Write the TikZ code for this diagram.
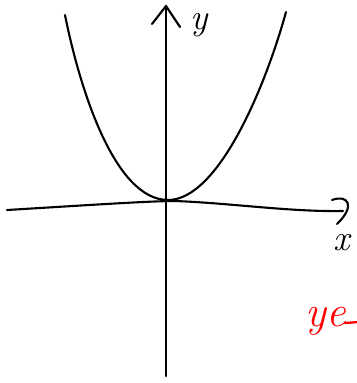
\documentclass[tikz,border=0pt]{standalone}
\usepackage{tikz}
\usetikzlibrary{positioning}

\begin{document}
\begin{tikzpicture}[
    x=0.02cm, y=-0.02cm,
    axis/.style={line width=1.2pt, line cap=round, line join=round},
    curve/.style={line width=1.2pt, line cap=round},
    lbl/.style={font=\huge\itshape, inner sep=0pt},
    note/.style={font=\Huge\itshape, text=red, inner sep=0pt}
]
\useasboundingbox (0,0) rectangle (357,383);
% axes
\coordinate (ybot) at (166,376);
\coordinate (ytop) at (166,6);
\coordinate (xleft) at (7,210);
\coordinate (xright) at (343,211);
\draw[axis] (ybot) -- (ytop);
\draw[axis] (152,24) -- (ytop) -- (180,27);
\draw[axis] (xleft) .. controls (90,205) and (150,201) .. (175,201)
    .. controls (230,203) and (290,212) .. (xright);
\draw[axis] (332,200) .. controls (348,194) and (356,206) .. (337,224);
\node[lbl] (ylbl) at (199,25) {y};
\node[lbl] (xlbl) at (342,243) {x};
% parabola
\coordinate (vertex) at (168,200);
\draw[curve] (65,15) .. controls (80,90) and (115,200) .. (vertex)
    .. controls (218,200) and (265,88) .. (286,12);
% note
\node[note, anchor=base west] (eqn) at (305,326) {ye};
\draw[red, line width=1.3pt, line cap=round] (eqn.base east) ++(-1,-3) -- ++(14,-1);
\end{tikzpicture}
\end{document}
